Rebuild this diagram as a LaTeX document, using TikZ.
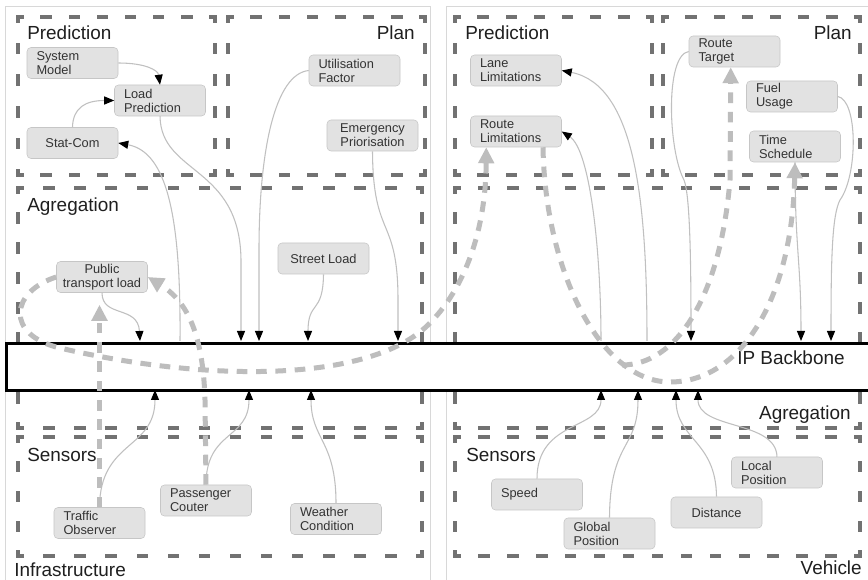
\documentclass[tikz,border=0pt]{standalone}
\usepackage{fontspec}
\setmainfont{Liberation Sans}
\usetikzlibrary{arrows.meta,calc}

\definecolor{framegray}{HTML}{D8D8D8}
\definecolor{boxdash}{HTML}{727272}
\definecolor{nodefill}{HTML}{E2E2E2}
\definecolor{nodeline}{HTML}{C6C6C6}
\definecolor{linkgray}{HTML}{C0C0C0}
\definecolor{flowgray}{HTML}{BDBDBD}
\definecolor{textdark}{HTML}{333333}

\tikzset{
  panel/.style={draw=framegray, line width=0.75pt},
  group/.style={draw=boxdash, line width=2.3pt, line cap=rect},
  title/.style={font=\fontsize{14.2}{16}\selectfont, text=black!88, inner sep=0pt},
  comp/.style={draw=nodeline, fill=nodefill, rounded corners=3pt,
               minimum width=68.25pt, minimum height=23.25pt, inner ysep=1.5pt,
               font=\fontsize{9.6}{10.6}\selectfont, text=textdark},
  compl/.style={comp, align=left, text width=54pt, inner xsep=7pt},
  compc/.style={comp, align=center},
  link/.style={draw=linkgray, line width=0.8pt,
               -{Triangle[color=black, length=7.5pt, width=6pt]}},
  flow/.style={draw=flowgray, line width=3.75pt, dash pattern=on 8pt off 6.5pt,
               -{Triangle[color=flowgray, length=12pt, width=11.5pt]}},
  backbone/.style={draw=black, fill=white, line width=2.25pt, inner sep=0pt}
}

% dashed group frame: every side gets a whole number of dash periods,
% so that each corner shows a small L made of two half dashes
\newcommand\groupframe[4]{%
  \foreach \ax/\ay/\bx/\by in {#1/#2/#3/#2, #3/#2/#3/#4, #3/#4/#1/#4, #1/#4/#1/#2} {
    \pgfmathsetmacro\sidelen{0.75*veclen(\bx-\ax,\by-\ay)}
    \pgfmathsetmacro\nper{max(1,round(\sidelen/22.5))}
    \pgfmathsetmacro\dgap{\sidelen/\nper-6.3}
    \draw[group, dash pattern=on 6.3pt off \dgap pt, dash phase=3.15pt]
      (\ax,\ay) -- (\bx,\by);
  }%
}

\begin{document}
\begin{tikzpicture}[x=0.75pt,y=-0.75pt]
\clip (0,0) rectangle (868,580);
\fill[white] (0,0) rectangle (868,580);

% two outer panels
\draw[panel] (5,7) rectangle (430,600);
\draw[panel] (446,7) rectangle (900,600);

% infrastructure groups
\groupframe{18}{17}{215}{175}
\groupframe{228}{17}{425}{175}
\groupframe{18}{188}{422}{428}
\groupframe{18}{437}{422}{556}
% vehicle groups
\groupframe{455}{17}{652}{175}
\groupframe{663}{17}{860}{175}
\groupframe{455}{188}{860}{428}
\groupframe{455}{437}{860}{556}

% group titles
\node[title, anchor=base west] at (27,40) {Prediction};
\node[title, anchor=base east] at (415,40) {Plan};
\node[title, anchor=base west] at (27,212) {Agregation};
\node[title, anchor=base west] at (27,462) {Sensors};
\node[title, anchor=base west] at (14,577) {Infrastructure};
\node[title, anchor=base west] at (465,40) {Prediction};
\node[title, anchor=base east] at (852,40) {Plan};
\node[title, anchor=base east] at (851,420) {Agregation};
\node[title, anchor=base west] at (466,462) {Sensors};
\node[title, anchor=base east] at (862,575) {Vehicle};

% backbone
\node[backbone, anchor=north west, minimum width=656pt, minimum height=35.25pt] (bb) at (5,342) {};
\node[title, anchor=base west] at (737,365) {IP Backbone};

% attachment points on the backbone
\coordinate (bt1) at (140,341);
\coordinate (bstat) at (180,341);
\coordinate (bt2) at (241,341);
\coordinate (bt3) at (259,341);
\coordinate (bt4) at (308,341);
\coordinate (bt5) at (398,341);
\coordinate (bb1) at (155,390);
\coordinate (bb2) at (249,390);
\coordinate (bb3) at (311,390);
\coordinate (br1) at (601,341);
\coordinate (br2) at (647,341);
\coordinate (br3) at (691,341);
\coordinate (br4) at (801,341);
\coordinate (br5) at (831,341);
\coordinate (bv1) at (601,390);
\coordinate (bv2) at (638,390);
\coordinate (bv3) at (676,390);
\coordinate (bv4) at (698,390);
\coordinate (msg) at (622,365);

% infrastructure components
\node[compl] (sysmodel) at (72.5,63) {System\\Model};
\node[compl] (loadpred) at (160,100.5) {Load\\Prediction};
\node[compc] (statcom) at (72.5,143) {Stat-Com};
\node[compl] (util) at (354.5,70.5) {Utilisation\\Factor};
\node[compc] (emerg) at (372.5,135.5) {Emergency\\Priorisation};
\node[compc] (ptl) at (102,277) {Public\\transport load};
\node[compc] (street) at (323.5,258.5) {Street Load};
\node[compl] (traffic) at (99.5,523) {Traffic\\Observer};
\node[compl] (passenger) at (206,500.5) {Passenger\\Couter};
\node[compl] (weather) at (336,519) {Weather\\Condition};

% vehicle components
\node[compl] (lane) at (516,70.5) {Lane\\Limitations};
\node[compl] (routelim) at (516,131.5) {Route\\Limitations};
\node[compl] (routetarget) at (734.5,51.5) {Route\\Target};
\node[compl] (fuel) at (792,96.5) {Fuel\\Usage};
\node[compl] (time) at (795,146.5) {Time\\Schedule};
\node[compl] (speed) at (537,494.5) {Speed};
\node[compl] (global) at (609.5,533.5) {Global\\Position};
\node[compc] (distance) at (716.5,512.5) {Distance};
\node[compl] (localpos) at (777,472.5) {Local\\Position};

% infrastructure links
\draw[link] (sysmodel.east) .. controls (145,63) and (158,70) .. (loadpred.north);
\draw[link] (statcom.north) .. controls (73,108) and (85,100.5) .. (loadpred.west);
\draw[link] (bstat) .. controls (181,220) and (168,152) .. (statcom.east);
\draw[link] (loadpred.south) .. controls (161,175) and (240,165) .. (241,260) -- (bt2);
\draw[link] (util.west) .. controls (275,74) and (259,150) .. (259,250) -- (bt3);
\draw[link] (street.south) .. controls (323,315) and (308,300) .. (bt4);
\draw[link] (emerg.south) .. controls (373,240) and (398,215) .. (398,300) -- (bt5);
\draw[link] (ptl.south) .. controls (102,318) and (138,305) .. (bt1);
\draw[link] (traffic.north) .. controls (100,440) and (155,450) .. (bb1);
\draw[link] (passenger.north) .. controls (206,430) and (249,440) .. (bb2);
\draw[link] (weather.north) .. controls (336,440) and (311,440) .. (bb3);

% vehicle links
\draw[link] (br1) .. controls (601,250) and (590,150) .. (routelim.east);
\draw[link] (br2) .. controls (647,200) and (635,85) .. (lane.east);
\draw[link] (routetarget.west) .. controls (665,55) and (668,150) .. (684,180)
            .. controls (690,195) and (691,260) .. (br3);
\draw[link] (time.south) .. controls (795,250) and (801,260) .. (br4);
\draw[link] (fuel.east) .. controls (858,100) and (858,175) .. (840,200)
            .. controls (832,215) and (831,260) .. (br5);
\draw[link] (speed.north) .. controls (537,420) and (601,430) .. (bv1);
\draw[link] (global.north) .. controls (610,440) and (638,450) .. (bv2);
\draw[link] (distance.north) .. controls (716,440) and (676,440) .. (bv3);
\draw[link] (localpos.north) .. controls (776,420) and (698,430) .. (bv4);

% information flows
\draw[flow, shorten >=9pt] (traffic.north) -- (traffic.north |- ptl.south);
\draw[flow] (passenger.north) -- (205,400) .. controls (203,330) and (185,300) .. (ptl.east);
\draw[flow] (ptl.west) .. controls (10,292) and (5,335) .. (60,348)
            .. controls (200,381) and (370,385) .. (430,323)
            .. controls (470,282) and (486,220) .. ($(routelim.south west)+(16,0)$);
\draw[flow] ($(routelim.south)+(27,0)$) .. controls (545,270) and (600,382) .. (670,382)
            .. controls (740,382) and (792,300) .. (time.south);
\draw[flow] (msg) .. controls (675,365) and (720,300) .. (730,180)
            -- ($(routetarget.south west)+(42,0)$);
\end{tikzpicture}
\end{document}
